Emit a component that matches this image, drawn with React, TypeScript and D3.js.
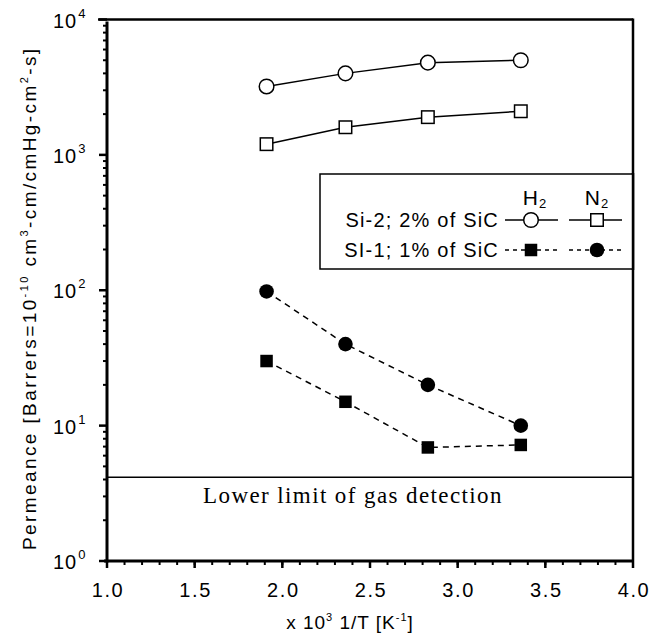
import React from "react";
import * as d3 from "d3";

// 1000/T for 250, 150, 80 and 25 C
const invT = [1.91, 2.36, 2.83, 3.36];
const si2H2 = [3200, 4000, 4800, 5000];
const si2N2 = [1200, 1600, 1900, 2100];
const si1H2 = [30, 15, 6.9, 7.2];
const si1N2 = [98, 40, 20, 10];
const xTicks = [1.0, 1.5, 2.0, 2.5, 3.0, 3.5, 4.0];
const yExps = [0, 1, 2, 3, 4];
const detectionLimit = 4.15;
const legendRows = ["Si-2; 2% of SiC", "SI-1; 1% of SiC"];
const legendCols = ["H", "N"];

const sans = "'Liberation Sans', Arial, sans-serif";
const serif = "'Liberation Serif', 'Times New Roman', serif";

const App = () => {
  const width = 664,
    height = 642;
  const left = 107,
    right = 633,
    top = 19.5,
    bottom = 561;

  const x = d3.scaleLinear().domain([1, 4]).range([left, right]);
  const y = d3.scaleLog().domain([1, 1e4]).range([bottom, top]);

  const pts = (vals: number[]) => invT.map((t, i) => [t, vals[i]] as [number, number]);
  const line = d3
    .line<[number, number]>()
    .x((d) => x(d[0]))
    .y((d) => y(d[1]));

  const xMinor = d3.range(10, 41).map((v) => v / 10);
  const yMinor: number[] = [];
  yExps.slice(0, -1).forEach((e) => {
    for (let k = 2; k <= 9; k++) yMinor.push(k * Math.pow(10, e));
  });

  const sq = 12.5;
  const r = 7.3;
  const dash = "6,5";

  // legend geometry
  const lg = { x: 320, y: 174, w: right - 320, h: 95 };
  const col1 = 531,
    col2 = 597;
  const row1 = 220,
    row2 = 250;

  return (
    <svg
      width={width}
      height={height}
      style={{ position: "absolute", left: 0, top: 0, background: "#fff" }}
    >
      <rect width={width} height={height} fill="#fff" />

      {/* frame */}
      <line x1={98} x2={right} y1={top} y2={top} stroke="#000" strokeWidth={2.5} />
      <line x1={right} x2={right} y1={top - 1} y2={bottom} stroke="#000" strokeWidth={2.5} />
      <line x1={left} x2={left} y1={top + 2} y2={bottom + 1.5} stroke="#000" strokeWidth={3} />
      <line x1={left - 3} x2={right + 1} y1={bottom} y2={bottom} stroke="#000" strokeWidth={3} />

      {/* x ticks */}
      {xMinor.map((v) => (
        <line
          key={"xm" + v}
          x1={x(v)}
          x2={x(v)}
          y1={bottom}
          y2={bottom + 4}
          stroke="#000"
          strokeWidth={2}
        />
      ))}
      {xTicks.map((v) => (
        <g key={"xt" + v}>
          <line x1={x(v)} x2={x(v)} y1={bottom} y2={bottom + 7} stroke="#000" strokeWidth={2.5} />
          <text
            x={x(v) + 1}
            y={597}
            textAnchor="middle"
            fontFamily={sans}
            fontSize={20}
            letterSpacing={1.6}
          >
            {v.toFixed(1)}
          </text>
        </g>
      ))}

      {/* y ticks */}
      {yMinor.map((v) => (
        <line
          key={"ym" + v}
          x1={left - 4}
          x2={left}
          y1={y(v)}
          y2={y(v)}
          stroke="#000"
          strokeWidth={2}
        />
      ))}
      {yExps.map((e) => (
        <g key={"yt" + e}>
          <line
            x1={left - 8}
            x2={left}
            y1={y(Math.pow(10, e))}
            y2={y(Math.pow(10, e))}
            stroke="#000"
            strokeWidth={2.5}
          />
          <text
            x={53}
            y={y(Math.pow(10, e)) + 8}
            fontFamily={sans}
            fontSize={20}
            letterSpacing={1}
          >
            10
            <tspan dx={1} dy={-10} fontSize={13}>
              {e}
            </tspan>
          </text>
        </g>
      ))}

      {/* axis titles */}
      <text
        transform={`translate(36,${(top + bottom) / 2 + 8}) rotate(-90)`}
        textAnchor="middle"
        fontFamily={sans}
        fontSize={19}
        letterSpacing={2.4}
      >
        Permeance [Barrers=10
        <tspan dy={-8} fontSize={11}>
          -10
        </tspan>
        <tspan dy={8}> cm</tspan>
        <tspan dy={-8} fontSize={11}>
          3
        </tspan>
        <tspan dy={8}>-cm/cmHg-cm</tspan>
        <tspan dy={-8} fontSize={11}>
          2
        </tspan>
        <tspan dy={8}>-s]</tspan>
      </text>
      <text x={350} y={629} textAnchor="middle" fontFamily={sans} fontSize={19} letterSpacing={1}>
        x 10
        <tspan dy={-8} fontSize={11}>
          3
        </tspan>
        <tspan dy={8}> 1/T [K</tspan>
        <tspan dy={-8} fontSize={11}>
          -1
        </tspan>
        <tspan dy={8}>]</tspan>
      </text>

      {/* detection limit */}
      <line
        x1={left}
        x2={right}
        y1={y(detectionLimit)}
        y2={y(detectionLimit)}
        stroke="#000"
        strokeWidth={1.5}
      />
      <text
        x={353}
        y={y(detectionLimit) + 26}
        textAnchor="middle"
        fontFamily={serif}
        fontSize={23}
        letterSpacing={1.4}
      >
        Lower limit of gas detection
      </text>

      {/* series lines */}
      <path d={line(pts(si2H2)) || ""} fill="none" stroke="#000" strokeWidth={1.5} />
      <path d={line(pts(si2N2)) || ""} fill="none" stroke="#000" strokeWidth={1.5} />
      <path
        d={line(pts(si1H2)) || ""}
        fill="none"
        stroke="#000"
        strokeWidth={1.5}
        strokeDasharray={dash}
      />
      <path
        d={line(pts(si1N2)) || ""}
        fill="none"
        stroke="#000"
        strokeWidth={1.5}
        strokeDasharray={dash}
      />

      {/* markers */}
      {pts(si2H2).map((d, i) => (
        <circle key={"a" + i} cx={x(d[0])} cy={y(d[1])} r={r} fill="#fff" stroke="#000" strokeWidth={1.5} />
      ))}
      {pts(si2N2).map((d, i) => (
        <rect
          key={"b" + i}
          x={x(d[0]) - sq / 2}
          y={y(d[1]) - sq / 2}
          width={sq}
          height={sq}
          fill="#fff"
          stroke="#000"
          strokeWidth={1.5}
        />
      ))}
      {pts(si1H2).map((d, i) => (
        <rect
          key={"c" + i}
          x={x(d[0]) - sq / 2}
          y={y(d[1]) - sq / 2}
          width={sq}
          height={sq}
          fill="#000"
        />
      ))}
      {pts(si1N2).map((d, i) => (
        <circle key={"d" + i} cx={x(d[0])} cy={y(d[1])} r={r} fill="#000" />
      ))}

      {/* legend */}
      <rect x={lg.x} y={lg.y} width={lg.w} height={lg.h} fill="#fff" stroke="#000" strokeWidth={1.5} />
      <line x1={right} x2={right} y1={lg.y - 1} y2={lg.y + lg.h + 1} stroke="#000" strokeWidth={2.5} />
      {legendCols.map((c, i) => (
        <text
          key={c}
          x={i === 0 ? col1 + 4 : col2}
          y={205}
          textAnchor="middle"
          fontFamily={sans}
          fontSize={21}
          letterSpacing={1}
        >
          {c}
          <tspan dy={3} fontSize={13}>
            2
          </tspan>
        </text>
      ))}
      {legendRows.map((t, i) => (
        <text
          key={t}
          x={499}
          y={(i === 0 ? row1 : row2) + 7}
          textAnchor="end"
          fontFamily={sans}
          fontSize={20}
          letterSpacing={1.2}
        >
          {t}
        </text>
      ))}
      <line x1={col1 - 26} x2={col1 + 27} y1={row1} y2={row1} stroke="#000" strokeWidth={1.5} />
      <line x1={col2 - 28} x2={col2 + 25} y1={row1} y2={row1} stroke="#000" strokeWidth={1.5} />
      <circle cx={col1} cy={row1} r={r} fill="#fff" stroke="#000" strokeWidth={1.5} />
      <rect
        x={col2 - sq / 2}
        y={row1 - sq / 2}
        width={sq}
        height={sq}
        fill="#fff"
        stroke="#000"
        strokeWidth={1.5}
      />
      <line
        x1={col1 - 26}
        x2={col1 + 27}
        y1={row2}
        y2={row2}
        stroke="#000"
        strokeWidth={1.5}
        strokeDasharray="4,4"
      />
      <line
        x1={col2 - 28}
        x2={col2 + 25}
        y1={row2}
        y2={row2}
        stroke="#000"
        strokeWidth={1.5}
        strokeDasharray="4,4"
      />
      <rect x={col1 - sq / 2} y={row2 - sq / 2} width={sq} height={sq} fill="#000" />
      <circle cx={col2} cy={row2} r={r} fill="#000" />
    </svg>
  );
};

export default App;
